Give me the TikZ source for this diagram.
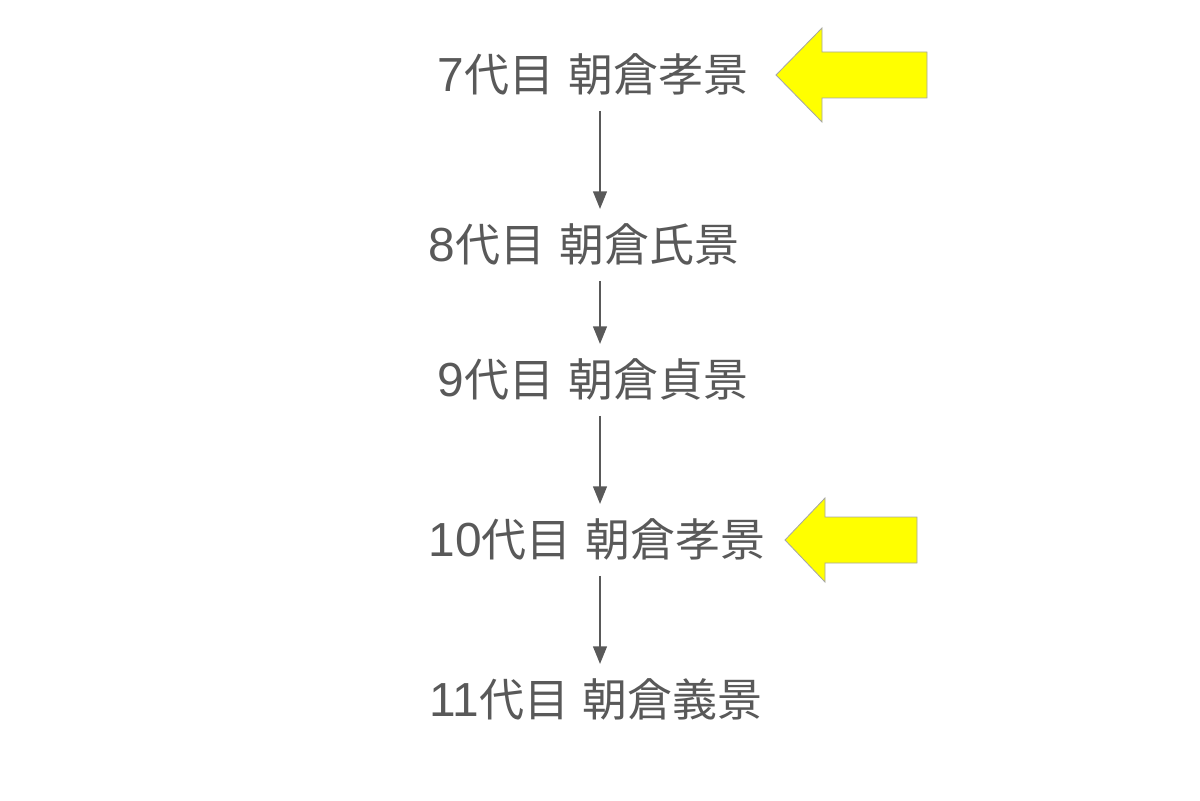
\documentclass[tikz,border=0pt]{standalone}
\usepackage{fontspec}
\setmainfont{Liberation Sans}
\newfontfamily\jpfont{Noto Sans CJK JP}
\usepackage{tikz}
\usetikzlibrary{arrows.meta}
\definecolor{TextGray}{HTML}{595959}
\definecolor{MarkYellow}{HTML}{FFFF00}
\newcommand{\gen}[2]{{\fontsize{34}{40}\selectfont #1}{\jpfont 代目\hspace{0.3em}#2}}
\newcommand{\markarrow}[4]{% tip, head length, head half height, total length
  \draw[fill=MarkYellow,draw=gray!70,line width=0.6pt]
    (#1) -- ++(#2,-#3) -- ++(0,#3-23) -- ++(#4-#2,0) -- ++(0,46)
    -- ++(#2-#4,0) -- ++(0,#3-23) -- cycle;}

\begin{document}
\begin{tikzpicture}[x=0.025cm, y=-0.025cm, >={Triangle[length=0.44cm,width=0.34cm]}]
    \useasboundingbox (0,0) rectangle (1200,800);
    \tikzset{gen/.style={TextGray,font=\fontsize{32}{38}\selectfont,
        text height=28pt,text depth=4pt,inner sep=0.33cm}}
    \coordinate (ax) at (600,0);
    \node[gen] (g7) at (593,75) {\gen{7}{朝倉孝景}};
    \node[gen] (g8) at (584,245) {\gen{8}{朝倉氏景}};
    \node[gen] (g9) at (593,380) {\gen{9}{朝倉貞景}};
    \node[gen] (g10) at (597,540) {\gen{10}{朝倉孝景}};
    \node[gen] (g11) at (596,700) {\gen{11}{朝倉義景}};
    \foreach \a/\b in {g7/g8,g8/g9,g9/g10,g10/g11}
      \draw[->,line width=1.6pt,TextGray] (\a.south -| ax) -- (\b.north -| ax);
    % yellow markers
    \coordinate (m7) at (776,75);
    \coordinate (m10) at (785,540);
    \markarrow{m7}{46}{47}{151}
    \markarrow{m10}{40}{42}{132}
  \end{tikzpicture}
\end{document}
